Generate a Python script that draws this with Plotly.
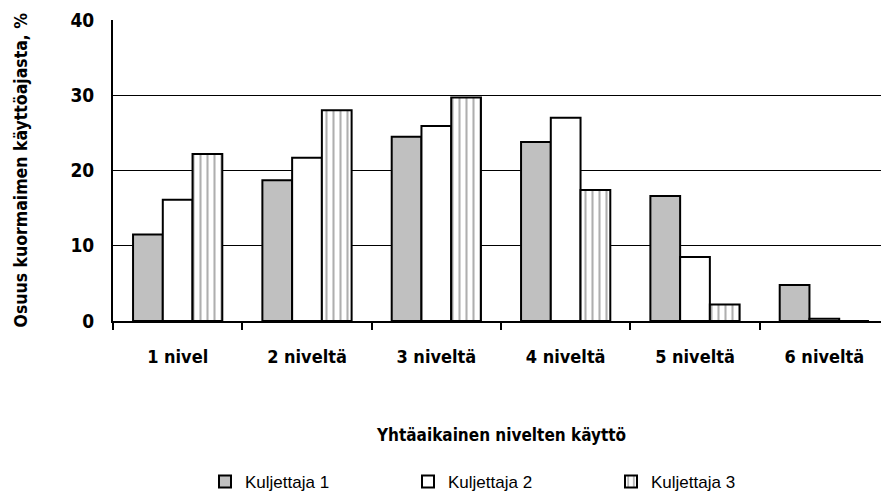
import plotly.graph_objects as go

categories = ["1 nivel", "2 niveltä", "3 niveltä", "4 niveltä", "5 niveltä", "6 niveltä"]
kuljettaja1 = [11.5, 18.7, 24.5, 23.8, 16.6, 4.8]
kuljettaja2 = [16.1, 21.7, 25.9, 27.0, 8.5, 0.3]
kuljettaja3 = [22.2, 28.0, 29.7, 17.4, 2.2, 0.0]
series_names = ["Kuljettaja 1", "Kuljettaja 2", "Kuljettaja 3"]

FONT = "DejaVu Sans Condensed, Liberation Sans, Arial, sans-serif"
LFONT = "Liberation Sans, Arial, sans-serif"

# page body has an 8px margin, so the figure is drawn at (8, 8)
W, H = 881, 487

fig = go.Figure()
fig.add_trace(go.Bar(x=categories, y=kuljettaja1, name=series_names[0],
                     marker=dict(color="#c0c0c0", line=dict(color="black", width=2))))
fig.add_trace(go.Bar(x=categories, y=kuljettaja2, name=series_names[1],
                     marker=dict(color="white", line=dict(color="black", width=2))))
fig.add_trace(go.Bar(x=categories, y=kuljettaja3, name=series_names[2],
                     marker=dict(color="white", line=dict(color="black", width=2),
                                 pattern=dict(shape="|", fgcolor="#606060", bgcolor="white",
                                              size=7, solidity=0.3))))

fig.update_layout(
    width=W, height=H,
    margin=dict(l=105, r=0, t=12, b=174, autoexpand=False),
    paper_bgcolor="white", plot_bgcolor="white",
    barmode="group", bargap=0.31, bargroupgap=0,
    font=dict(family=FONT, size=14, color="black"),
    showlegend=True,
    legend=dict(orientation="h", xref="container", x=197 / W, xanchor="left",
                yref="container", y=1 - 474 / H, yanchor="middle",
                font=dict(family=LFONT, size=17, color="black"),
                entrywidth=158, entrywidthmode="pixels", itemsizing="constant",
                bgcolor="rgba(0,0,0,0)"),
    annotations=[
        dict(text="<b>Yhtäaikainen nivelten käyttö</b>", xref="paper", yref="paper",
             x=0.5, y=(321 - 435) / 301, xanchor="center", yanchor="middle", showarrow=False,
             font=dict(family=FONT, size=17, color="black")),
        dict(text="<b>Osuus kuormaimen käyttöajasta, %</b>", xref="paper", yref="paper",
             x=(20 - 113) / 776, y=0.5, xanchor="center", yanchor="middle", showarrow=False,
             textangle=-90, font=dict(family=FONT, size=17.5, color="black")),
    ],
)
fig.update_xaxes(
    showline=True, linecolor="black", linewidth=2,
    ticks="outside", tickson="boundaries", ticklen=7, tickcolor="black", tickwidth=1.5,
    tickfont=dict(family=FONT, size=18, color="black"),
    ticklabelstandoff=18,
    tickprefix="<b>", ticksuffix="</b>",
)
fig.update_yaxes(
    range=[0, 40], dtick=10, showgrid=True, gridcolor="black", gridwidth=1,
    showline=True, linecolor="black", linewidth=2, zeroline=False,
    ticks="", tickfont=dict(family=FONT, size=19, color="black"),
    tickprefix="<b>", ticksuffix="</b>", ticklabelstandoff=13,
)

fig.write_html("out.html")
